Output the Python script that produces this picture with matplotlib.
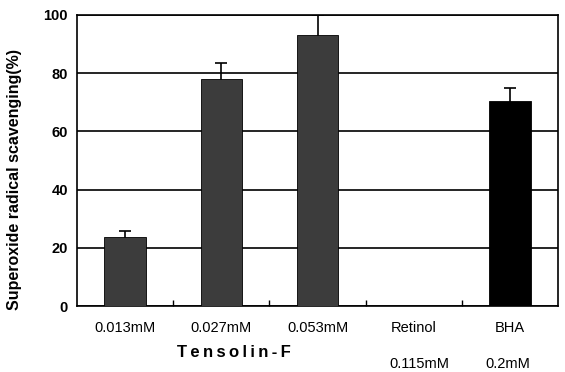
import numpy as np
import matplotlib.pyplot as plt

plt.rcParams['font.family'] = ['Liberation Sans', 'DejaVu Sans']

# data
categories = ["0.013mM", "0.027mM", "0.053mM", "Retinol", "BHA"]
values = [23.7, 78.0, 93.1, 0.0, 70.4]
errors = [2.1, 5.5, 6.9, 0.0, 4.6]
sub_labels = ["0.115mM", "0.2mM"]

bar_colors = ["#3c3c3c", "#3c3c3c", "#3c3c3c", "#3c3c3c", "#000000"]

fig = plt.figure(figsize=(5.65, 3.72), dpi=100)
ax = fig.add_axes([0.136, 0.177, 0.852, 0.783])

x = np.arange(len(categories))
ax.bar(x, values, width=0.43, color=bar_colors, edgecolor="black", linewidth=0.6, zorder=3)
# error bars drawn under the bars so only the upper half shows
ax.errorbar(x[[0, 1, 2, 4]], np.array(values)[[0, 1, 2, 4]],
            yerr=np.array(errors)[[0, 1, 2, 4]],
            fmt="none", ecolor="black", elinewidth=1.2, capsize=4, capthick=1.2, zorder=2.5)

ax.set_xlim(-0.5, len(categories) - 0.5)
ax.set_ylim(0, 100)
ax.set_yticks([0, 20, 40, 60, 80, 100])
ax.yaxis.grid(True, color="black", linewidth=1.2, zorder=0)
ax.set_axisbelow(True)
for sp in ax.spines.values():
    sp.set_linewidth(1.2)

ax.set_xticks(x)
ax.set_xticklabels(categories, fontsize=10.5)
ax.tick_params(axis="x", length=0, pad=11)
ax.set_xticks(x[:-1] + 0.5, minor=True)
ax.tick_params(axis="x", which="minor", direction="in", length=4, width=1)
ax.tick_params(axis="y", length=0, pad=6.5, labelsize=10.5)
for t in ax.get_yticklabels():
    t.set_fontweight("bold")

ax.set_ylabel("Superoxide radical scavenging(%)", fontsize=11.5, fontweight="bold")
ax.yaxis.set_label_coords(-0.113, 0.436)

# secondary text under the axis
ax.text(1.13, -0.132, "T\u2009e\u2009n\u2009s\u2009o\u2009l\u2009i\u2009n\u2009-\u2009F",
        transform=ax.get_xaxis_transform(),
        ha="center", va="top", fontsize=12, fontweight="bold")
ax.text(3.06, -0.175, sub_labels[0], transform=ax.get_xaxis_transform(),
        ha="center", va="top", fontsize=10.5)
ax.text(3.98, -0.175, sub_labels[1], transform=ax.get_xaxis_transform(),
        ha="center", va="top", fontsize=10.5)

fig.savefig("out.png", dpi=100)
